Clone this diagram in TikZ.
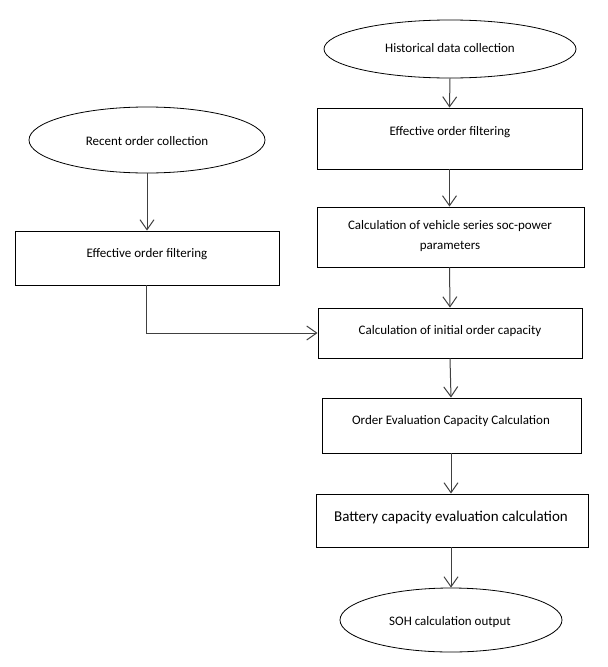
\documentclass[tikz,border=0pt]{standalone}
\usepackage{fontspec}
\setmainfont{Carlito}
\usetikzlibrary{shapes.geometric,arrows.meta}
\begin{document}
\begin{tikzpicture}[x=1pt,y=-1pt,
  box/.style={draw=black,line width=0.9pt,rectangle,inner sep=0pt},
  oval/.style={draw=black,line width=0.8pt,ellipse,inner sep=0pt},
  txt/.style={font=\fontsize{13}{16}\selectfont,inner sep=0pt,align=center},
  flow/.style={draw=black!75,line width=1pt,-{Straight Barb[length=10pt,width=14pt,line width=1pt]}}]
\useasboundingbox (0,0) rectangle (608,667);
% ellipses
\node[oval,minimum width=252pt,minimum height=58pt] (hist) at (450,49) {};
\node[txt] (thist) at (450,48) {Historical data collection};
\node[oval,minimum width=236pt,minimum height=66pt] (rec) at (147,140) {};
\node[txt] (trec) at (147,141) {Recent order collection};
\node[oval,minimum width=222pt,minimum height=64pt] (soh) at (451,620) {};
\node[txt] (tsoh) at (450,622) {SOH calculation output};
% boxes right
\node[box,minimum width=265pt,minimum height=61pt] (eff) at (449.5,138.5) {};
\node[txt] (teff) at (450,132) {Effective order filtering};
\node[box,minimum width=267pt,minimum height=60pt] (soc) at (450.5,237) {};
\node[txt] (tsoc) at (450,236) {Calculation of vehicle series soc-power\\[4pt]parameters};
\node[box,minimum width=264pt,minimum height=50pt] (init) at (450,333) {};
\node[txt] (tinit) at (450,331) {Calculation of initial order capacity};
\node[box,minimum width=259pt,minimum height=55pt] (oev) at (451.5,425.5) {};
\node[txt] (toev) at (451,421) {Order Evaluation Capacity Calculation};
\node[box,minimum width=272pt,minimum height=53pt] (bat) at (452,520.5) {};
\node[txt,font=\fontsize{15}{18}\selectfont] (tbat) at (451,517) {Battery capacity evaluation calculation};
% left box
\node[box,minimum width=264pt,minimum height=54pt] (leff) at (147,258) {};
\node[txt] (tleff) at (147,254) {Effective order filtering};
% connectors
\draw[flow] (hist.south) -- (eff.north);
\draw[flow] (eff.south) -- (soc.north -| eff.south);
\draw[flow] (soc.south -| eff.south) -- (init.north);
\draw[flow] (init.south) -- ([xshift=1pt]oev.north -| init.south);
\draw[flow] ([xshift=1pt]oev.south -| init.south) -- ([xshift=1pt]bat.north -| init.south);
\draw[flow] ([xshift=1pt]bat.south -| init.south) -- ([xshift=1pt]soh.north -| init.south);
\draw[flow] (rec.south) -- (leff.north -| rec.south);
\coordinate (bend) at ([xshift=-1pt]leff.south |- init.west);
\draw[flow] ([xshift=-1pt]leff.south) -- (bend) -- (init.west);
\end{tikzpicture}
\end{document}
